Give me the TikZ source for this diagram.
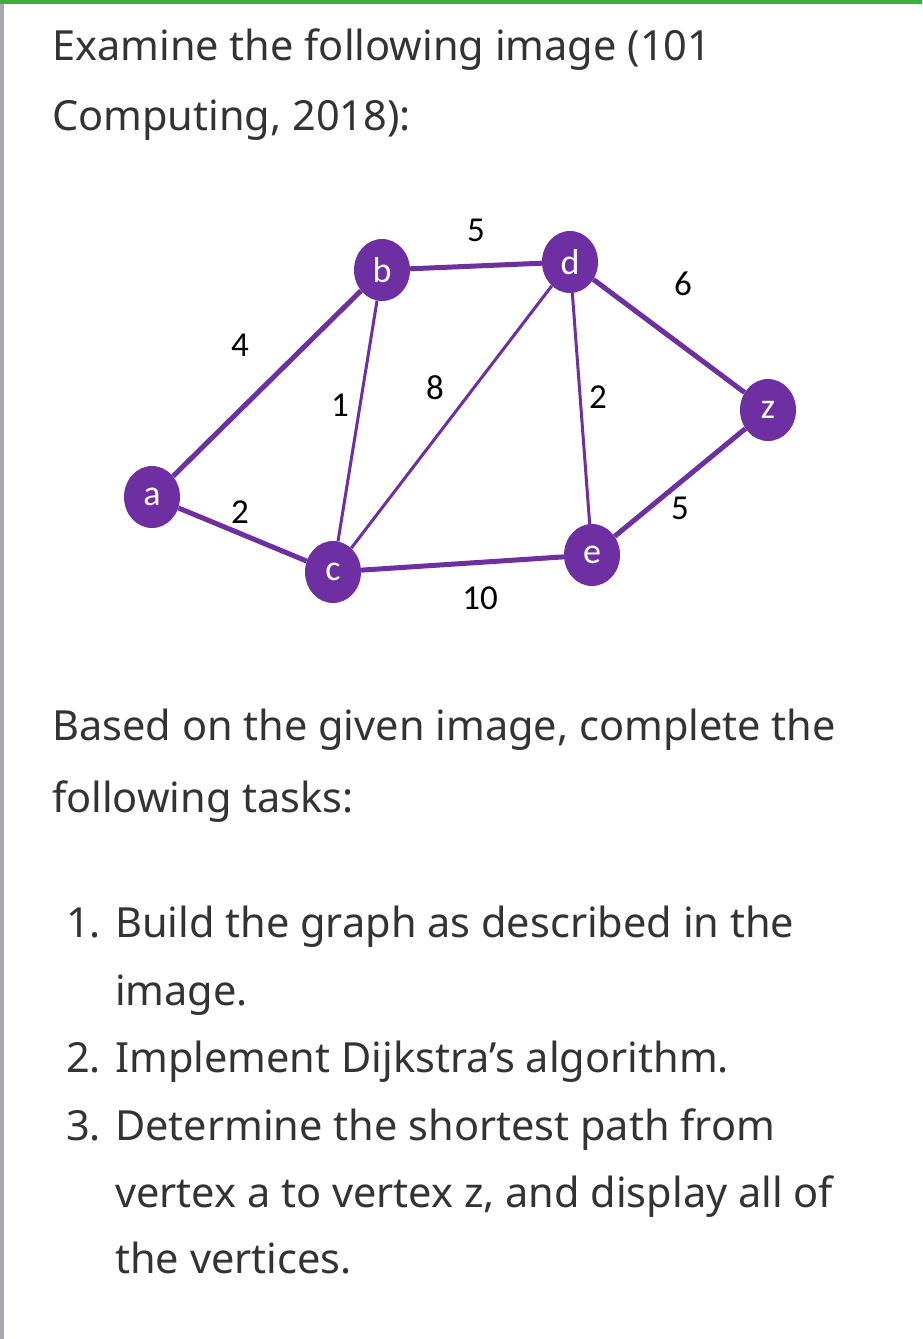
\documentclass[tikz,border=0pt]{standalone}
\usetikzlibrary{shapes.geometric,backgrounds}
\usepackage{fontspec}
\setmainfont{Noto Sans}
\newfontfamily\lbl{Carlito}
\definecolor{pur}{HTML}{6E2FA3}
\definecolor{txt}{HTML}{333333}
\definecolor{grn}{HTML}{3DB03A}
\definecolor{gry}{HTML}{A8A8B0}
\begin{document}
\begin{tikzpicture}[x=1pt,y=-1pt,
  v/.style={ellipse,fill=pur,minimum width=56pt,minimum height=62pt,inner sep=0pt,text=white,font=\lbl\fontsize{36}{36}\selectfont},
  thick edge/.style={draw=pur,line width=5pt},
  thin edge/.style={draw=pur,line width=3pt},
  w/.style={font=\lbl\fontsize{35}{35}\selectfont,text=black},
  t/.style={anchor=base west,text=txt,font=\fontsize{41.5}{41.5}\selectfont,inner sep=0pt}]
\useasboundingbox (0,0) rectangle (922,1339);
\node[t] (l1) at (52,60) {Examine the following image (101};
\node[t] (l2) at (52,130) {Computing, 2018):};
\node[v] (a) at (152,497) {a};
\node[v] (b) at (382,270) {b};
\node[v] (c) at (333,572) {c};
\node[v] (d) at (570,262) {d};
\node[v] (e) at (592,555) {e};
\node[v] (z) at (768,410) {z};
\begin{scope}[on background layer]
\fill[white] (0,0) rectangle (922,1339);
\fill[grn] (0,0) rectangle (922,4);
\fill[gry] (0,4) rectangle (4,1339);
\path[thick edge] (a) -- (b) (a) -- (c) (b) -- (d) (c) -- (e) (d) -- (z) (e) -- (z);
\path[thin edge] (b) -- (c) (c) -- (d) (d) -- (e);
\end{scope}
\node[w] (w1) at (476,230) {5};
\node[w] (w2) at (683,284) {6};
\node[w] (w3) at (240,345) {4};
\node[w] (w4) at (340,405) {1};
\node[w] (w5) at (435,388) {8};
\node[w] (w6) at (598,397) {2};
\node[w] (w7) at (240,512) {2};
\node[w] (w8) at (680,508) {5};
\node[w] (w9) at (480,598) {10};
\node[t] (p1) at (52,740) {Based on the given image, complete the};
\node[t] (p2) at (52,812) {following tasks:};
\node[t] (n1) at (66,937) {1.};
\node[t] (i1) at (115,937) {Build the graph as described in the};
\node[t] (i1b) at (115,1005) {image.};
\node[t] (n2) at (66,1072) {2.};
\node[t] (i2) at (115,1072) {Implement Dijkstra’s algorithm.};
\node[t] (n3) at (66,1140) {3.};
\node[t] (i3) at (115,1140) {Determine the shortest path from};
\node[t] (i3b) at (115,1207) {vertex a to vertex z, and display all of};
\node[t] (i3c) at (115,1273) {the vertices.};
\end{tikzpicture}
\end{document}
